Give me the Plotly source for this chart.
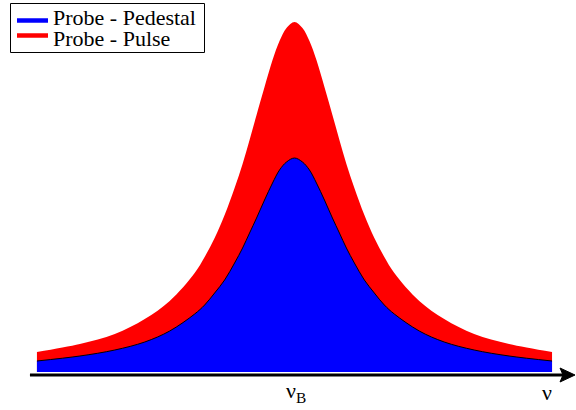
import plotly.graph_objects as go

# Frequency offset from the Brillouin line centre (arbitrary units)
detuning = [-258, -215, -180, -150, -125, -100, -90, -80, -70, -60, -52, -45,
            -38, -30, -22, -15, -8, 0, 8, 15, 22, 30, 38, 45, 52, 60, 70, 80,
            90, 100, 125, 150, 180, 215, 258]

# Brillouin gain spectra (arbitrary units)
pedestal = [11, 16, 22, 30, 41, 58, 67, 79, 92, 109, 124, 139,
            154, 172, 189, 202, 210, 214, 210, 202, 189, 172, 154, 139, 124, 109, 92, 79,
            67, 58, 41, 30, 22, 16, 11]
pulse = [20, 28, 38, 53, 71, 99, 115, 134, 157, 184, 208, 232,
         257, 285, 312, 331, 344, 350, 344, 331, 312, 285, 257, 232, 208, 184, 157, 134,
         115, 99, 71, 53, 38, 28, 20]

series_names = ["Probe - Pedestal", "Probe - Pulse"]
series_colors = ["#0000ff", "#ff0000"]
axis_labels = ["ν<sub>B</sub>", "ν"]

SERIF = "Liberation Serif"
W, H = 576, 410


def px(x):
    return x / W


def py(y):
    return 1 - y / H


fig = go.Figure()

# Pulse spectrum (red) drawn first, pedestal spectrum (blue) on top of it
fig.add_trace(go.Scatter(
    x=detuning, y=pulse, mode="lines", line=dict(width=0, shape="spline", color="red"),
    fill="tozeroy", fillcolor=series_colors[1], showlegend=False, hoverinfo="skip"))
fig.add_trace(go.Scatter(
    x=detuning, y=pedestal, mode="lines", line=dict(width=1, shape="spline", color="black"),
    fill="tozeroy", fillcolor=series_colors[0], showlegend=False, hoverinfo="skip"))

# Frequency axis drawn as a thick arrow
fig.add_shape(type="line", x0=-265, x1=270, y0=-3, y1=-3,
              line=dict(color="black", width=3), layer="above")
fig.add_shape(type="path", path="M 266 4 L 281 -3 L 266 -10 L 269 -3 Z",
              fillcolor="black", line=dict(color="black", width=1), layer="above")

fig.add_annotation(x=2, y=-20, text=axis_labels[0], showarrow=False,
                   font=dict(family=SERIF, size=22, color="black"))
fig.add_annotation(x=253, y=-20, text=axis_labels[1], showarrow=False,
                   font=dict(family=SERIF, size=22, color="black"))

# Legend: framed box with thick line samples and labels
fig.add_shape(type="rect", xref="paper", yref="paper",
              x0=px(10.5), x1=px(204.5), y0=py(52.5), y1=py(3.5),
              line=dict(color="black", width=1), fillcolor="white", layer="above")
for i, (name, color) in enumerate(zip(series_names, series_colors)):
    line_y = [20.5, 35.5][i]
    text_y = [16.5, 38.5][i]
    fig.add_shape(type="line", xref="paper", yref="paper",
                  x0=px(17), x1=px(48), y0=py(line_y), y1=py(line_y),
                  line=dict(color=color, width=4.5), layer="above")
    fig.add_annotation(xref="paper", yref="paper", x=px(52), y=py(text_y),
                       xanchor="left", yanchor="middle", text=name, showarrow=False,
                       height=22, valign="middle", borderpad=0,
                       font=dict(family=SERIF, size=22, color="black"))

fig.update_layout(
    width=W, height=H,
    margin=dict(l=0, r=0, t=0, b=0),
    paper_bgcolor="white", plot_bgcolor="white",
    xaxis=dict(range=[-295, 282], visible=False, fixedrange=True),
    yaxis=dict(range=[-38, 372], visible=False, fixedrange=True),
    showlegend=False,
)

fig.write_html("out.html")
